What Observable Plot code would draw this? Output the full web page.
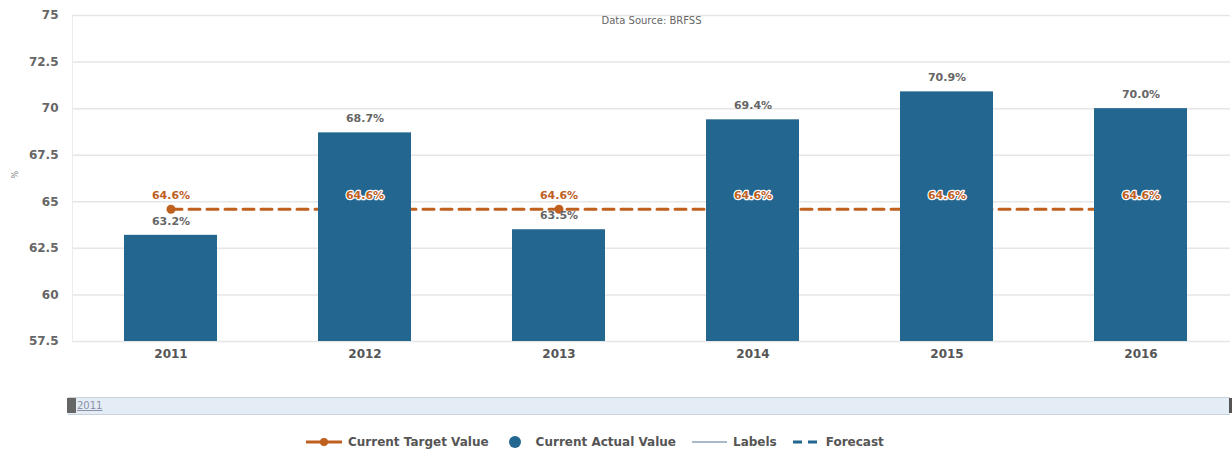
<!DOCTYPE html>
<html><head><meta charset="utf-8">
<script src="https://cdn.jsdelivr.net/npm/d3@7"></script>
<script src="https://cdn.jsdelivr.net/npm/@observablehq/plot@0.6"></script>
<style>
body{margin:0;background:#fff;font-family:"DejaVu Sans",sans-serif;}
#wrap{position:relative;width:1232px;height:453px;overflow:hidden;}
#nav{position:absolute;left:68px;top:397px;width:1162px;height:16px;background:#e4ecf5;border-top:1px solid #c9d3de;border-bottom:1px solid #c9d3de;}
#hl{position:absolute;left:67px;top:398px;width:9px;height:15px;background:#666;}
#hr{position:absolute;left:1229px;top:398px;width:3px;height:15px;background:#555;}
#navlab{position:absolute;left:77px;top:400px;font-size:10px;color:#8a90a8;text-decoration:underline;}
#legend{position:absolute;left:297px;top:435px;display:flex;align-items:center;font-size:12px;font-weight:bold;color:#555;}
#legend .it{display:flex;align-items:center;margin:0 8px;}
#legend svg{margin-right:5px;}
</style></head>
<body><div id="wrap"><div id="chart"></div>
<div id="nav"></div><div id="hl"></div><div id="hr"></div><div id="navlab">2011</div>
<div id="legend"></div></div>
<script>
const years = ["2011","2012","2013","2014","2015","2016"];
const actual = [63.2, 68.7, 63.5, 69.4, 70.9, 70.0];
const target = [64.6, 64.6, 64.6, 64.6, 64.6, 64.6];
const yTicks = [57.5, 60, 62.5, 65, 67.5, 70, 72.5, 75];
const title = "Data Source: BRFSS";
const legendItems = ["Current Target Value", "Current Actual Value", "Labels", "Forecast"];

const barColor = "#236690";
const orange = "#c0601f";
const data = years.map((y, i) => ({year: y, actual: actual[i], target: target[i]}));

const chart = Plot.plot({
  width: 1232, height: 370,
  marginTop: 15, marginBottom: 29, marginLeft: 72, marginRight: 2,
  style: {fontFamily: "DejaVu Sans, sans-serif", background: "#fff"},
  x: {domain: years, range: [23, 1288], padding: 0.52, label: null},
  y: {domain: [57.5, 75], label: null},
  marks: [
    Plot.ruleY(yTicks, {stroke: "#e6e6e6", strokeWidth: 1.5}),
    Plot.frame({anchor: "left", stroke: "#ececec"}),
    Plot.axisY({ticks: yTicks, tickSize: 0, tickPadding: 14, fontSize: 12, fontWeight: "bold", fill: "#666", tickFormat: d => String(d), label: null}),
    Plot.axisX({tickSize: 0, tickPadding: 8, fontSize: 12, fontWeight: "bold", fill: "#555", label: null}),
    Plot.line(data, {x: "year", y: "target", stroke: orange, strokeWidth: 3, strokeDasharray: "11,7"}),
    Plot.dot(data, {x: "year", y: "target", r: 4.5, fill: orange}),
    Plot.barY(data, {x: "year", y1: 57.5, y2: "actual", fill: barColor}),
    Plot.text(data, {x: "year", y: "actual", text: d => d.actual.toFixed(1) + "%", dy: -14, fontSize: 11, fontWeight: "bold", fill: "#666"}),
    Plot.text(data, {x: "year", y: "target", text: d => d.target.toFixed(1) + "%", dy: -14, fontSize: 11, fontWeight: "bold", fill: orange, stroke: "white", strokeWidth: 2.5}),
    Plot.text([title], {frameAnchor: "top", text: d => d, fontSize: 10, fill: "#666", dy: 1}),
    Plot.text(["%"], {frameAnchor: "left", text: d => d, rotate: -90, dx: -57, fontSize: 8, fill: "#888"})
  ]
});
document.getElementById("chart").appendChild(chart);

const syms = [
  '<svg width="38" height="10"><line x1="1" y1="5" x2="37" y2="5" stroke="'+orange+'" stroke-width="3"/><circle cx="19" cy="5" r="4" fill="'+orange+'"/></svg>',
  '<svg width="26" height="14"><circle cx="10" cy="7" r="6" fill="'+barColor+'"/></svg>',
  '<svg width="36" height="10"><line x1="0" y1="5" x2="35" y2="5" stroke="#8aa0b8" stroke-width="1.5"/></svg>',
  '<svg width="28" height="10"><line x1="0" y1="5" x2="24" y2="5" stroke="'+barColor+'" stroke-width="3" stroke-dasharray="9,6"/></svg>'
];
const lg = document.getElementById("legend");
legendItems.forEach((t, i) => {
  const d = document.createElement("div");
  d.className = "it";
  d.innerHTML = syms[i] + "<span>" + t + "</span>";
  lg.appendChild(d);
});
</script></body></html>
